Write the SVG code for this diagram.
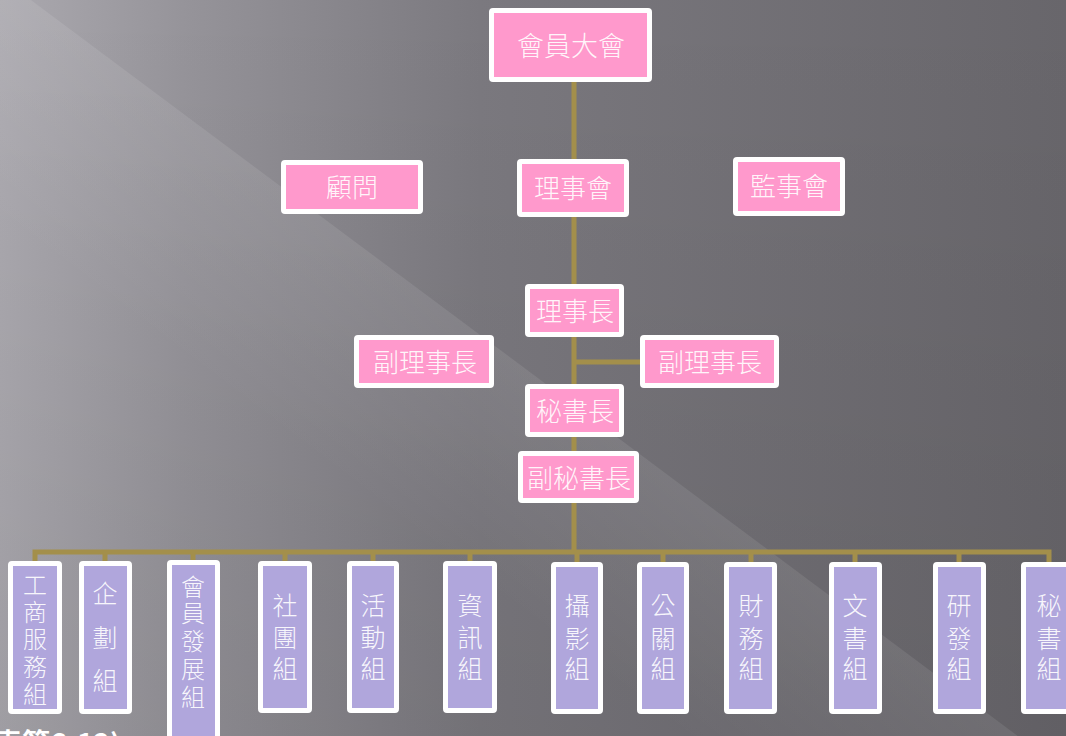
<svg xmlns="http://www.w3.org/2000/svg" width="1066" height="736" viewBox="0 0 1066 736">
<defs>
<linearGradient id="bg" x1="0" y1="0" x2="1066" y2="0" gradientUnits="userSpaceOnUse">
<stop offset="0" stop-color="#aba9af"/>
<stop offset="0.18" stop-color="#959399"/>
<stop offset="0.45" stop-color="#7b797f"/>
<stop offset="1" stop-color="#68666b"/>
</linearGradient>
<linearGradient id="vshade" x1="0" y1="0" x2="0" y2="736" gradientUnits="userSpaceOnUse">
<stop offset="0" stop-color="#000" stop-opacity="0"/>
<stop offset="1" stop-color="#000" stop-opacity="0.07"/>
</linearGradient>
<linearGradient id="band" x1="500" y1="350" x2="380" y2="510" gradientUnits="userSpaceOnUse">
<stop offset="0" stop-color="#fff" stop-opacity="0.09"/>
<stop offset="1" stop-color="#fff" stop-opacity="0"/>
</linearGradient>
<style>
.box rect{stroke:#ffffff;stroke-width:5}
.pk{fill:#ff99cc}
.pu{fill:#b0a6dc}
.t{font-family:"Noto Sans CJK TC","Noto Sans CJK SC",sans-serif;font-weight:300;fill:#ffffff;fill-opacity:0.92;text-anchor:middle}
.tt{font-size:26px}
.vt{font-size:25px}
.ln{stroke:#a38f4b;stroke-width:5;fill:none}
.note{font-family:"Noto Sans CJK TC","Noto Sans CJK SC",sans-serif;font-weight:700;font-size:28px;fill:#ffffff}
</style>
</defs>
<rect x="0" y="0" width="1066" height="736" fill="url(#bg)"/>
<polygon points="0,-23 1066,772 0,772" fill="url(#band)"/>
<rect x="0" y="0" width="1066" height="736" fill="url(#vshade)"/>

<g id="connectors">
<line class="ln" x1="574" y1="80" x2="574" y2="552"/>
<line class="ln" x1="574" y1="362" x2="642" y2="362"/>
<polyline class="ln" points="35,563 35,552 1049,552 1049,563"/>
<line class="ln" x1="105" y1="552" x2="105" y2="563"/>
<line class="ln" x1="193" y1="552" x2="193" y2="563"/>
<line class="ln" x1="285" y1="552" x2="285" y2="563"/>
<line class="ln" x1="373" y1="552" x2="373" y2="563"/>
<line class="ln" x1="470" y1="552" x2="470" y2="563"/>
<line class="ln" x1="577" y1="552" x2="577" y2="563"/>
<line class="ln" x1="663" y1="552" x2="663" y2="563"/>
<line class="ln" x1="751" y1="552" x2="751" y2="563"/>
<line class="ln" x1="855" y1="552" x2="855" y2="563"/>
<line class="ln" x1="959" y1="552" x2="959" y2="563"/>
</g>

<g id="n-huiyuandahui" class="box"><rect class="pk" x="491.5" y="10.5" width="158" height="69" rx="1.5"/><text class="t tt" x="571" y="56" style="font-size:27px">會員大會</text></g>
<g id="n-guwen" class="box"><rect class="pk" x="283.5" y="162.5" width="137" height="49" rx="1.5"/><text class="t tt" x="352" y="197">顧問</text></g>
<g id="n-lishihui" class="box"><rect class="pk" x="519.5" y="161.5" width="107" height="53" rx="1.5"/><text class="t tt" x="573" y="198">理事會</text></g>
<g id="n-jianshihui" class="box"><rect class="pk" x="735.5" y="159.5" width="107" height="54" rx="1.5"/><text class="t tt" x="789" y="196">監事會</text></g>
<g id="n-lishizhang" class="box"><rect class="pk" x="527.5" y="286.5" width="94" height="48" rx="1.5"/><text class="t tt" x="575" y="321">理事長</text></g>
<g id="n-fulishizhang-l" class="box"><rect class="pk" x="356.5" y="337.5" width="135" height="48" rx="1.5"/><text class="t tt" x="425" y="372">副理事長</text></g>
<g id="n-fulishizhang-r" class="box"><rect class="pk" x="642.5" y="337.5" width="134" height="48" rx="1.5"/><text class="t tt" x="710" y="372">副理事長</text></g>
<g id="n-mishuzhang" class="box"><rect class="pk" x="527.5" y="386.5" width="94" height="48" rx="1.5"/><text class="t tt" x="575" y="421">秘書長</text></g>
<g id="n-fumishuzhang" class="box"><rect class="pk" x="520.5" y="453.5" width="116" height="47" rx="1.5"/><text class="t tt" x="579" y="488">副秘書長</text></g>

<g id="n-gongshang" class="box"><rect class="pu" x="10.5" y="563.5" width="49" height="148" rx="1.5"/>
<text class="t vt" style="font-size:24px"><tspan x="35" y="594">工</tspan><tspan x="35" y="621">商</tspan><tspan x="35" y="648">服</tspan><tspan x="35" y="676">務</tspan><tspan x="35" y="703">組</tspan></text></g>
<g id="n-qihua" class="box"><rect class="pu" x="81.5" y="563.5" width="48" height="148" rx="1.5"/>
<text class="t vt"><tspan x="105" y="603">企</tspan><tspan x="105" y="647">劃</tspan><tspan x="105" y="690">組</tspan></text></g>
<g id="n-fazhan" class="box"><rect class="pu" x="169.5" y="562.5" width="48" height="180" rx="1.5"/>
<text class="t vt" style="font-size:24px"><tspan x="193" y="596">會</tspan><tspan x="193" y="622">員</tspan><tspan x="193" y="650">發</tspan><tspan x="193" y="678">展</tspan><tspan x="193" y="706">組</tspan></text></g>
<g id="n-shetuan" class="box"><rect class="pu" x="260.5" y="563.5" width="49" height="147" rx="1.5"/>
<text class="t vt"><tspan x="285" y="615">社</tspan><tspan x="285" y="647">團</tspan><tspan x="285" y="678">組</tspan></text></g>
<g id="n-huodong" class="box"><rect class="pu" x="349.5" y="563.5" width="47" height="147" rx="1.5"/>
<text class="t vt"><tspan x="373" y="615">活</tspan><tspan x="373" y="647">動</tspan><tspan x="373" y="678">組</tspan></text></g>
<g id="n-zixun" class="box"><rect class="pu" x="445.5" y="563.5" width="49" height="147" rx="1.5"/>
<text class="t vt"><tspan x="470" y="615">資</tspan><tspan x="470" y="647">訊</tspan><tspan x="470" y="678">組</tspan></text></g>
<g id="n-sheying" class="box"><rect class="pu" x="553.5" y="564.5" width="47" height="147" rx="1.5"/>
<text class="t vt"><tspan x="577" y="615">攝</tspan><tspan x="577" y="648">影</tspan><tspan x="577" y="678">組</tspan></text></g>
<g id="n-gongguan" class="box"><rect class="pu" x="639.5" y="564.5" width="47" height="147" rx="1.5"/>
<text class="t vt"><tspan x="663" y="615">公</tspan><tspan x="663" y="648">關</tspan><tspan x="663" y="678">組</tspan></text></g>
<g id="n-caiwu" class="box"><rect class="pu" x="726.5" y="564.5" width="48" height="147" rx="1.5"/>
<text class="t vt"><tspan x="751" y="615">財</tspan><tspan x="751" y="648">務</tspan><tspan x="751" y="678">組</tspan></text></g>
<g id="n-wenshu" class="box"><rect class="pu" x="831.5" y="564.5" width="48" height="147" rx="1.5"/>
<text class="t vt"><tspan x="855" y="615">文</tspan><tspan x="855" y="648">書</tspan><tspan x="855" y="678">組</tspan></text></g>
<g id="n-yanfa" class="box"><rect class="pu" x="935.5" y="564.5" width="48" height="147" rx="1.5"/>
<text class="t vt"><tspan x="959" y="615">研</tspan><tspan x="959" y="648">發</tspan><tspan x="959" y="678">組</tspan></text></g>
<g id="n-mishu" class="box"><rect class="pu" x="1023.5" y="564.5" width="50" height="147" rx="1.5"/>
<text class="t vt"><tspan x="1049" y="615">秘</tspan><tspan x="1049" y="648">書</tspan><tspan x="1049" y="678">組</tspan></text></g>

<text class="note" x="-6" y="754">表第6-12)</text>
</svg>
